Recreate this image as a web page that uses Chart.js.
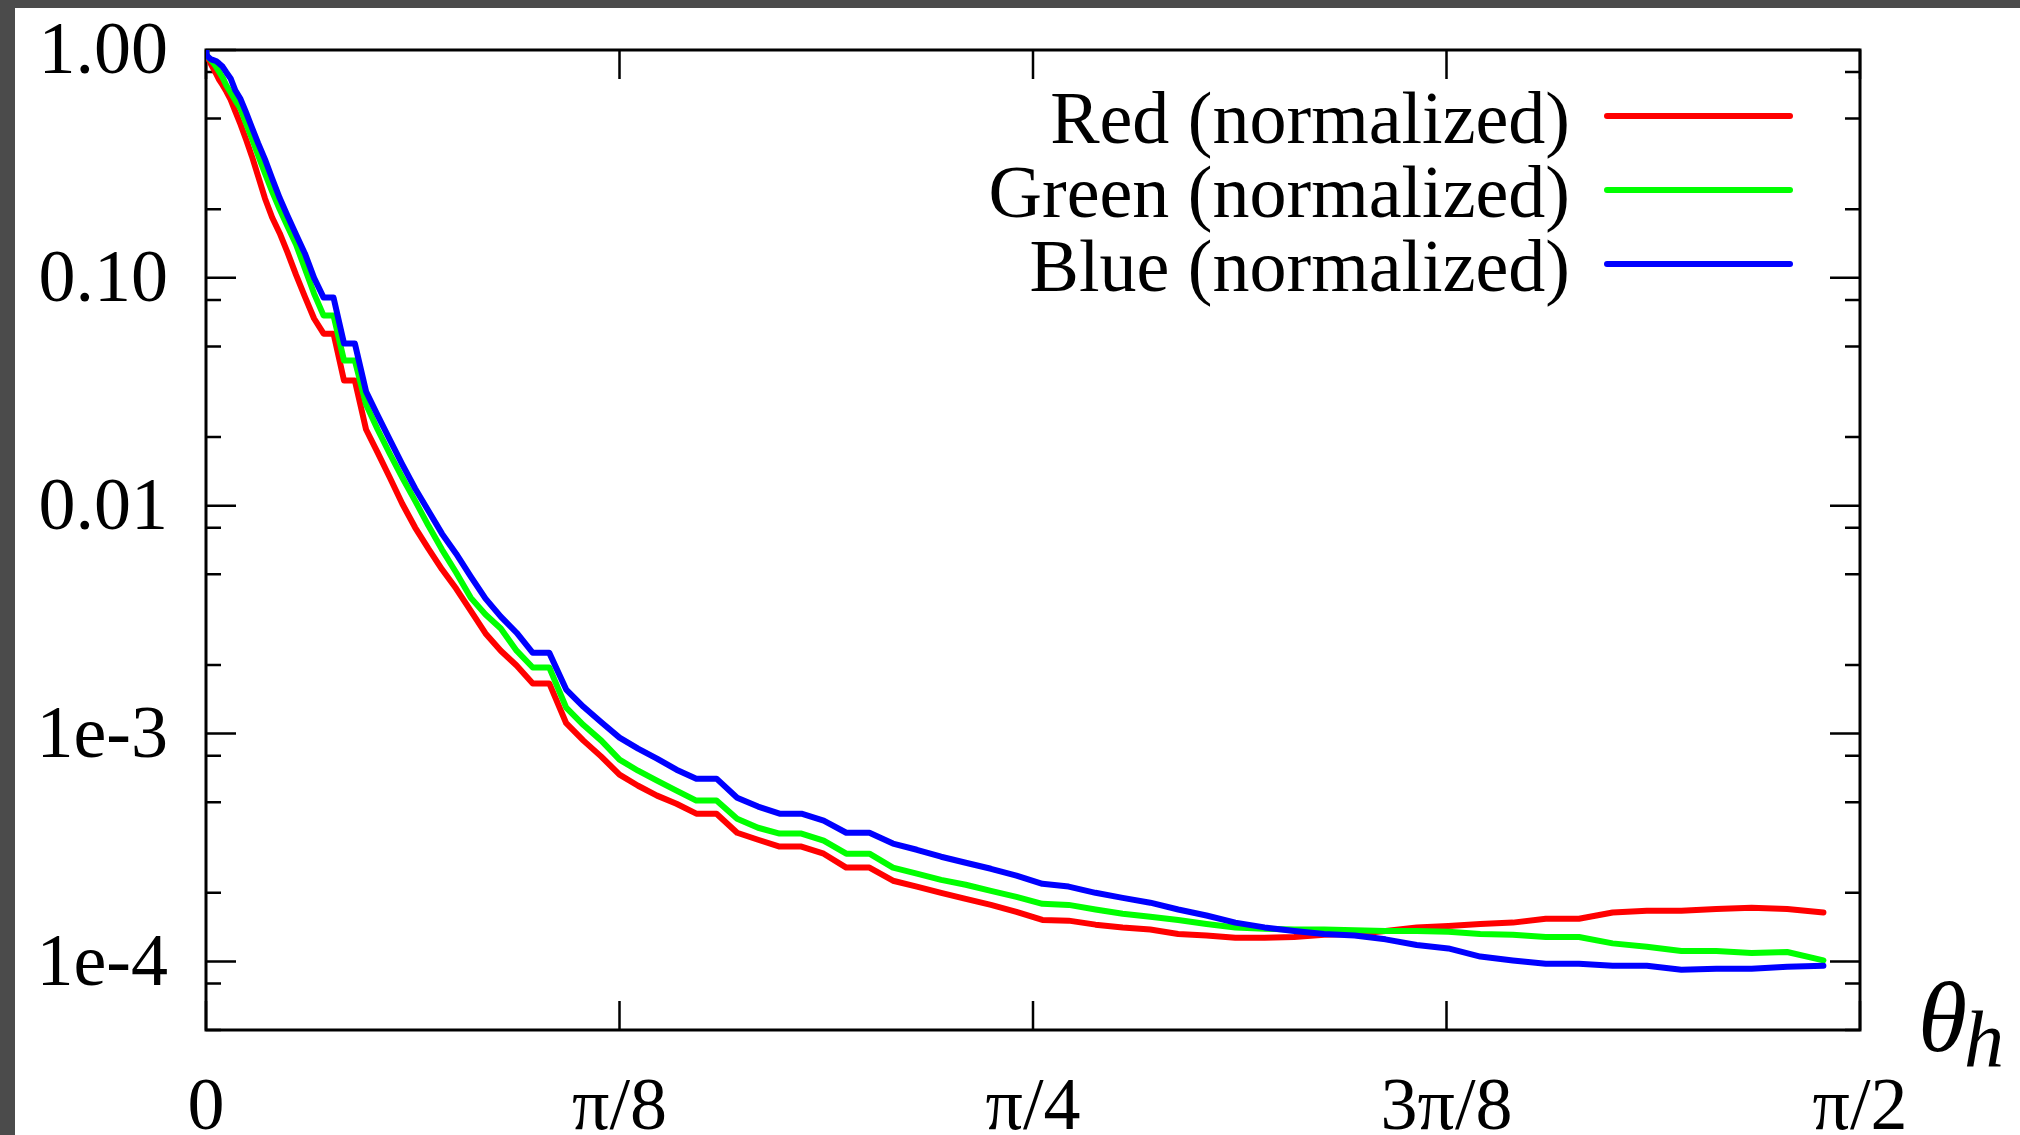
<!DOCTYPE html>
<html>
<head>
<meta charset="utf-8">
<title>Normalized RGB vs theta_h</title>
<script src="https://cdn.jsdelivr.net/npm/chart.js@4.4.1/dist/chart.umd.min.js"></script>
<style>
  html, body { margin: 0; padding: 0; overflow: hidden; background: #4b4b4b; }
  #paper { position: absolute; left: 15px; top: 8px; right: 0; bottom: 0; background: #fff; }
  #chart { position: absolute; left: 0; top: 0; }
</style>
</head>
<body>
<div id="paper"></div>
<canvas id="chart" width="2020" height="1135"></canvas>
<script>
// half-angle samples in degrees (denser near 0, as in the measured table)
const thetaDeg = [
  0, 0.01, 0.04, 0.10, 0.18, 0.28, 0.40, 0.54, 0.71, 0.90,
  1.11, 1.34, 1.60, 1.88, 2.18, 2.50, 2.84, 3.21, 3.60, 4.01,
  4.44, 4.90, 5.38, 5.88, 6.40, 6.94, 7.51, 8.10, 8.71, 9.34,
  10.00, 10.68, 11.38, 12.10, 12.84, 13.61, 14.40, 15.21, 16.04, 16.90,
  17.78, 18.68, 19.60, 20.54, 21.51, 22.50, 23.51, 24.54, 25.60, 26.68,
  27.78, 28.90, 30.04, 31.21, 32.40, 33.61, 34.84, 36.10, 37.38, 38.68,
  40.00, 41.34, 42.71, 44.10, 45.51, 46.94, 48.40, 49.88, 51.38, 52.90,
  54.44, 56.01, 57.60, 59.21, 60.84, 62.50, 64.18, 65.88, 67.60, 69.34,
  71.11, 72.90, 74.71, 76.54, 78.40, 80.28, 82.18, 84.10, 86.04, 88.01
];

const redValues = [
  1.0, 0.955, 0.936, 0.918, 0.899, 0.864, 0.829, 0.789, 0.742, 0.702,
  0.657, 0.606, 0.537, 0.471, 0.405, 0.341, 0.279, 0.223, 0.184, 0.157,
  0.129, 0.103, 0.0828, 0.0663, 0.0569, 0.0569, 0.0354, 0.0354, 0.0216, 0.0171,
  0.0133, 0.0102, 0.00802, 0.00648, 0.00526, 0.00433, 0.00346, 0.00275, 0.00231, 0.00199,
  0.00166, 0.00166, 0.00111, 0.000931, 0.000792, 0.000660, 0.000590, 0.000534, 0.000492, 0.000445,
  0.000445, 0.000367, 0.000342, 0.000319, 0.000319, 0.000297, 0.000258, 0.000258, 0.000226, 0.000213,
  0.000200, 0.000188, 0.000177, 0.000165, 0.000152, 0.000151, 0.000145, 0.000141, 0.000138, 0.000132,
  0.000130, 0.000127, 0.000127, 0.000128, 0.000131, 0.000132, 0.000136, 0.000141, 0.000143, 0.000146,
  0.000148, 0.000154, 0.000154, 0.000164, 0.000167, 0.000167, 0.000170, 0.000172, 0.000170, 0.000164
];

const greenValues = [
  1.0, 0.975, 0.955, 0.936, 0.918, 0.899, 0.877, 0.846, 0.804, 0.758,
  0.699, 0.651, 0.600, 0.553, 0.476, 0.409, 0.344, 0.287, 0.239, 0.200,
  0.168, 0.140, 0.110, 0.0853, 0.0683, 0.0683, 0.0434, 0.0434, 0.0278, 0.0216,
  0.0169, 0.0133, 0.0105, 0.00818, 0.00642, 0.00509, 0.00395, 0.00333, 0.00289, 0.00231,
  0.00195, 0.00195, 0.00130, 0.00109, 0.000931, 0.000768, 0.000687, 0.000621, 0.000562, 0.000508,
  0.000508, 0.000423, 0.000386, 0.000364, 0.000364, 0.000339, 0.000297, 0.000297, 0.000258, 0.000243,
  0.000228, 0.000217, 0.000204, 0.000192, 0.000179, 0.000177, 0.000169, 0.000162, 0.000157, 0.000152,
  0.000146, 0.000141, 0.000139, 0.000138, 0.000138, 0.000137, 0.000136, 0.000136, 0.000135, 0.000132,
  0.000131, 0.000128, 0.000128, 0.000120, 0.000116, 0.000111, 0.000111, 0.000109, 0.000110, 0.000101
];

const blueValues = [
  1.0, 0.975, 0.955, 0.936, 0.922, 0.910, 0.903, 0.895, 0.873, 0.846,
  0.797, 0.750, 0.664, 0.609, 0.532, 0.457, 0.389, 0.331, 0.273, 0.224,
  0.187, 0.155, 0.128, 0.100, 0.0819, 0.0819, 0.0515, 0.0515, 0.0317, 0.0249,
  0.0195, 0.0152, 0.0119, 0.00951, 0.00754, 0.00616, 0.00490, 0.00391, 0.00326, 0.00277,
  0.00226, 0.00226, 0.00156, 0.00131, 0.00112, 0.000960, 0.000859, 0.000776, 0.000694, 0.000634,
  0.000634, 0.000523, 0.000478, 0.000445, 0.000445, 0.000415, 0.000367, 0.000367, 0.000329, 0.000309,
  0.000288, 0.000271, 0.000255, 0.000238, 0.000219, 0.000213, 0.000200, 0.000190, 0.000181, 0.000169,
  0.000159, 0.000148, 0.000141, 0.000136, 0.000132, 0.000130, 0.000125, 0.000118, 0.000114, 0.000105,
  0.000101, 0.0000977, 0.0000977, 0.0000957, 0.0000957, 0.0000919, 0.0000929, 0.0000929, 0.0000948, 0.0000957
];

const seriesLabels = ['Red (normalized)', 'Green (normalized)', 'Blue (normalized)'];
const xTickLabels = ['0', 'π/8', 'π/4', '3π/8', 'π/2'];
const yMajorTicks = [1, 0.1, 0.01, 1e-3, 1e-4];
const yMajorLabels = ['1.00', '0.10', '0.01', '1e-3', '1e-4'];
const yMinorTicks = [0.8, 0.5, 0.2, 0.08, 0.05, 0.02, 0.008, 0.005, 0.002, 8e-4, 5e-4, 2e-4, 8e-5, 5e-5];

const toPoints = vals => vals.map((v, i) => ({ x: thetaDeg[i], y: v }));

Chart.defaults.font.family = '"Liberation Serif", "Times New Roman", serif';
Chart.defaults.font.size = 74;
Chart.defaults.color = '#000';

// gnuplot style frame: box border with inward ticks on all four sides
const frameTicks = {
  id: 'frameTicks',
  beforeDatasetsDraw(chart) {
    const { ctx, chartArea: a, scales: { x, y } } = chart;
    ctx.save();
    ctx.strokeStyle = '#000';
    ctx.lineWidth = 2.5;
    ctx.beginPath();
    x.ticks.forEach(t => {
      const px = x.getPixelForValue(t.value);
      ctx.moveTo(px, a.bottom); ctx.lineTo(px, a.bottom - 29);
      ctx.moveTo(px, a.top); ctx.lineTo(px, a.top + 29);
    });
    y.ticks.forEach(t => {
      const py = y.getPixelForValue(t.value);
      const len = yMajorTicks.includes(t.value) ? 30 : 15;
      ctx.moveTo(a.left, py); ctx.lineTo(a.left + len, py);
      ctx.moveTo(a.right, py); ctx.lineTo(a.right - len, py);
    });
    ctx.stroke();
    ctx.lineWidth = 3;
    ctx.strokeRect(a.left, a.top, a.right - a.left, a.bottom - a.top);
    ctx.restore();
  }
};

// key in the top right (text right-aligned, sample line after it) + axis name
const keyBox = {
  id: 'keyBox',
  afterDraw(chart) {
    const { ctx, chartArea: a } = chart;
    ctx.save();
    ctx.font = '74px "Liberation Serif"';
    ctx.textAlign = 'right';
    ctx.textBaseline = 'alphabetic';
    ctx.lineCap = 'round';
    seriesLabels.forEach((label, i) => {
      const ds = chart.data.datasets[i];
      const rowY = a.top + 66 + i * 74;
      ctx.fillStyle = '#000';
      ctx.fillText(label, a.right - 290, rowY + 27);
      ctx.strokeStyle = ds.borderColor;
      ctx.lineWidth = 6;
      ctx.beginPath();
      ctx.moveTo(a.right - 253, rowY);
      ctx.lineTo(a.right - 70, rowY);
      ctx.stroke();
    });
    ctx.fillStyle = '#000';
    ctx.textAlign = 'left';
    ctx.font = 'italic 100px "Liberation Serif"';
    ctx.fillText('θ', a.right + 58, a.bottom + 21);
    ctx.font = 'italic 80px "Liberation Serif"';
    ctx.fillText('h', a.right + 104, a.bottom + 36);
    ctx.restore();
  }
};

new Chart(document.getElementById('chart'), {
  type: 'line',
  data: {
    datasets: [
      { label: seriesLabels[0], data: toPoints(redValues), borderColor: '#ff0000', order: 2 },
      { label: seriesLabels[1], data: toPoints(greenValues), borderColor: '#00ff00', order: 1 },
      { label: seriesLabels[2], data: toPoints(blueValues), borderColor: '#0000ff', order: 0 }
    ]
  },
  options: {
    responsive: false,
    animation: false,
    devicePixelRatio: 1,
    layout: { padding: { top: 50, right: 160, left: 0, bottom: 0 } },
    elements: {
      line: { borderWidth: 6, tension: 0, borderCapStyle: 'round', borderJoinStyle: 'round', fill: false },
      point: { radius: 0 }
    },
    plugins: {
      legend: { display: false },
      tooltip: { enabled: false }
    },
    scales: {
      x: {
        type: 'linear',
        min: 0,
        max: 90,
        grid: { display: false, drawTicks: false },
        border: { display: false },
        afterFit: s => { s.height = 105; s.paddingLeft = 0; s.paddingRight = 0; },
        ticks: {
          stepSize: 22.5,
          autoSkip: false,
          maxRotation: 0,
          padding: 35,
          callback: v => xTickLabels[Math.round(v / 22.5)]
        }
      },
      y: {
        type: 'logarithmic',
        min: 5e-5,
        max: 1,
        grid: { display: false, drawTicks: false },
        border: { display: false },
        afterFit: s => { s.width = 206; s.paddingTop = 0; s.paddingBottom = 0; },
        afterBuildTicks: s => {
          s.ticks = yMajorTicks.concat(yMinorTicks).sort((p, q) => p - q).map(v => ({ value: v }));
        },
        ticks: {
          autoSkip: false,
          padding: 38,
          labelOffset: 4,
          callback: v => {
            const k = yMajorTicks.indexOf(v);
            return k >= 0 ? yMajorLabels[k] : '';
          }
        }
      }
    }
  },
  plugins: [frameTicks, keyBox]
});
</script>
</body>
</html>
